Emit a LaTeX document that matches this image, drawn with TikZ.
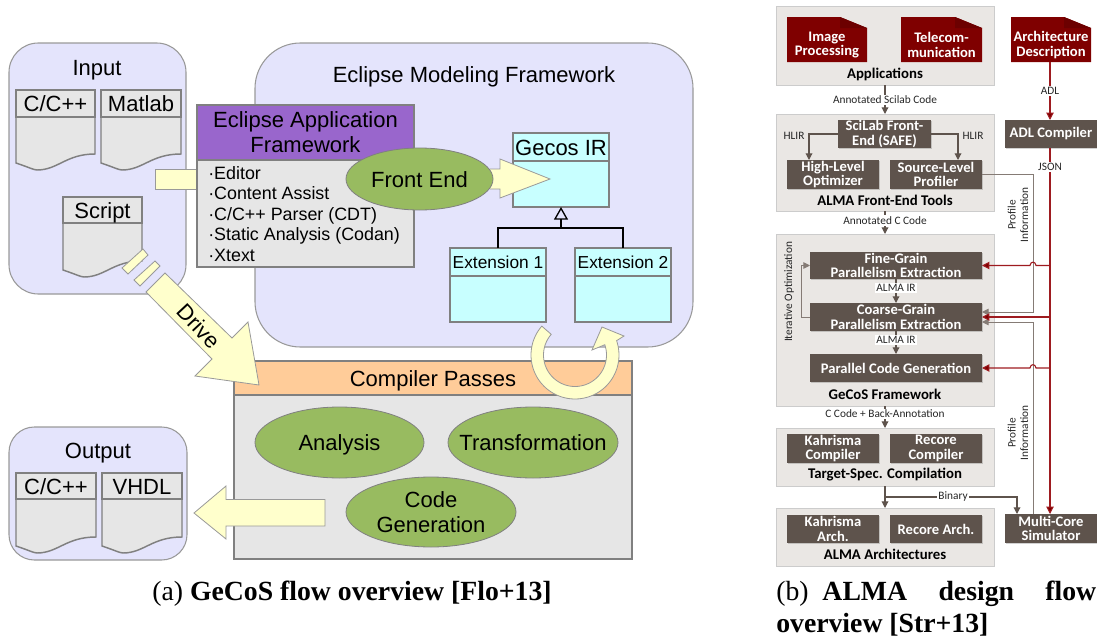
\documentclass[tikz,border=0pt]{standalone}
\usepackage{fontspec}
\setmainfont{Liberation Sans}
\newfontfamily\carl{Carlito}
\newfontfamily\capf{Liberation Serif}
\usetikzlibrary{arrows.meta,shadows,shapes.geometric}
\definecolor{lav}{HTML}{E4E4FC}
\definecolor{edgeg}{HTML}{999999}
\definecolor{docg}{HTML}{808080}
\definecolor{fillg}{HTML}{E6E6E6}
\definecolor{cyanb}{HTML}{C8FFFF}
\definecolor{purp}{HTML}{9966CC}
\definecolor{grn}{HTML}{98BB60}
\definecolor{orng}{HTML}{FFCC99}
\definecolor{pale}{HTML}{FFFFCC}
\definecolor{dred}{HTML}{7F0000}
\definecolor{fold}{HTML}{6C0000}
\definecolor{redl}{HTML}{9E1B20}
\definecolor{brn}{HTML}{5E534C}
\definecolor{prof}{HTML}{857B75}
\definecolor{panel}{HTML}{EAE7E4}
\tikzset{
  big/.style={font=\fontsize{16.5}{18.75}\selectfont},
  capcent/.style={text height=12pt,text depth=0pt},
  lavbox/.style={draw=edgeg,fill=lav,line width=.8pt},
  docbox/.style={draw=docg,fill=fillg,line width=1.1pt,big},
  uml/.style={draw=docg,fill=cyanb,line width=1.1pt},
  oval/.style={ellipse,draw=docg,fill=grn,line width=.6pt,big},
  parr/.style={draw=edgeg,fill=pale,line width=.6pt},
  panelbox/.style={draw=black!20,fill=panel,line width=.5pt,drop shadow={shadow xshift=.4pt,shadow yshift=-.8pt,opacity=.45,fill=black!60}},
  dk/.style={fill=brn,text=white,font=\carl\bfseries\fontsize{10.95}{11}\selectfont,drop shadow={shadow xshift=.5pt,shadow yshift=-.7pt,opacity=.3,fill=black!60}},
  dk2/.style={text=white,font=\carl\bfseries\fontsize{10.95}{11}\selectfont},
  ptitle/.style={font=\carl\bfseries\fontsize{11.1}{12}\selectfont,inner sep=0},
  lbl/.style={font=\carl\fontsize{8.5}{9.5}\selectfont,inner sep=0,text=black!85},
  lblw/.style={lbl,fill=white,inner xsep=1pt,inner ysep=1pt},
  flow/.style={draw=brn,line width=.9pt,-{Triangle[length=5pt,width=5pt]}},
  profl/.style={draw=prof,line width=.7pt,-{Triangle[length=5pt,width=5pt]}},
  redf/.style={draw=redl,line width=.8pt,-{Triangle[length=5.5pt,width=5.5pt,fill=dred]}},
}
\newcommand{\pbox}[7]{%
  \pgfmathsetmacro\bcx{(#2+#4)/2}\pgfmathsetmacro\bcy{(#3+#5)/2}%
  \pgfmathsetmacro\bw{(#4-#2)*0.75}\pgfmathsetmacro\bh{(#5-#3)*0.75}%
  \node[#6,minimum width=\bw pt,minimum height=\bh pt,inner sep=0,align=center,outer sep=0] (#1) at (\bcx,\bcy) {#7};}
% paper document: name, x1,y1,x2,y2, header bottom, text
\newcommand{\paperdoc}[7]{%
  \pgfmathsetmacro\dxa{#2+21}\pgfmathsetmacro\dxb{#2+12}\pgfmathsetmacro\dxc{#2+18}\pgfmathsetmacro\dxd{#2+42}\pgfmathsetmacro\dxe{#2+50}%
  \pgfmathsetmacro\dya{#5-7}\pgfmathsetmacro\dyb{#5-3}\pgfmathsetmacro\dyc{#5-16}%
  \draw[docbox] (#2,#3) -- (#4,#3) -- (#4,\dyc) .. controls (\dxe,\dyc) and (\dxd,#5) .. (\dxa,#5) .. controls (\dxc,#5) and (\dxb,\dyb) .. (#2,\dya) -- cycle;
  \pbox{#1}{#2}{#3}{#4}{#6}{docbox,capcent}{#7}}
% dark red document: name, x1,y1,x2,y2, text
\newcommand{\reddoc}[6]{%
  \pgfmathsetmacro\rxa{#4-27}\pgfmathsetmacro\rya{#3+11}\pgfmathsetmacro\ryb{#3+11}%
  \fill[dred] (#2,#3) -- (\rxa,#3) -- (#4,\rya) -- (#4,#5) -- (#2,#5) -- cycle;
  \fill[fold] (\rxa,#3) -- (#4,\rya) -- (\rxa,\ryb) -- cycle;
  \pbox{#1}{#2}{28}{#4}{#5}{dk2}{#6}}
\begin{document}
\begin{tikzpicture}[x=0.75pt,y=-0.75pt]
\useasboundingbox (0,0) rectangle (1097,639);
% ---------- (a)
\pbox{inputb}{9}{43}{186}{294}{lavbox,rounded corners=22pt}{}
\node[big,inner sep=0] (inputt) at (97,70) {Input};
\pbox{emf}{255}{43}{693}{347}{lavbox,rounded corners=34pt}{}
\node[big,inner sep=0] (emft) at (474,77) {Eclipse Modeling Framework};
\paperdoc{cpp}{16}{90}{95}{170}{117}{C/C++}
\paperdoc{matlab}{101}{90}{181}{170}{117}{Matlab}
\paperdoc{script}{63}{197}{142}{277}{223}{Script}
% stub towards application framework
\fill[pale] (155,169) rectangle (197,189);
\draw[edgeg,line width=.3pt] (155,169) -- (197,169) (155,169) -- (155,189) -- (197,189);
% Drive stubs
\draw[parr] (143,249) -- (148,255) -- (128,274) -- (122,268) -- cycle;
\draw[parr] (155,261) -- (160,266) -- (140,286) -- (134,280) -- cycle;
% framework
\pbox{eaf}{197}{105}{414}{267}{docbox}{}
\pbox{eaft}{197}{105}{414}{160}{draw=docg,fill=purp,line width=1.1pt,big}{Eclipse Application\\Framework}
\node[anchor=north west,inner sep=0,align=left,font=\fontsize{13.4}{15.4}\selectfont] (eafl) at (208,166) {·Editor\\·Content Assist\\·C/C++ Parser (CDT)\\·Static Analysis (Codan)\\·Xtext};
% Gecos IR
\pbox{gecos}{513}{133}{609}{207}{uml}{}
\pbox{gecost}{513}{133}{609}{161}{uml,big,capcent}{Gecos IR}
\pbox{ext1}{450}{248}{546}{322}{uml}{}
\pbox{ext1t}{450}{248}{546}{276}{uml,font=\fontsize{13}{15}\selectfont}{Extension 1}
\pbox{ext2}{575}{248}{671}{322}{uml}{}
\pbox{ext2t}{575}{248}{671}{276}{uml,font=\fontsize{13}{15}\selectfont}{Extension 2}
\coordinate (jn) at (561,228);
\draw[black,line width=1pt] (ext1.north) |- (jn) -| (ext2.north);
\draw[black,line width=1pt,-{Triangle[open,length=9.5pt,width=10.5pt]}] (jn) -- (gecos.south);
% front end
\draw[parr] (490,169) -- (500,169) -- (500,159) -- (550,179) -- (500,198) -- (500,189) -- (490,189);
\pbox{fe}{346}{148}{493}{210}{oval,capcent}{\makebox[0pt]{Front End}}
% compiler passes
\pbox{cpb}{234}{361}{632}{559}{docbox}{}
\pbox{cpt}{234}{361}{632}{395}{draw=docg,fill=orng,line width=1.1pt,big,capcent}{Compiler Passes}
\pbox{an}{255}{407}{424}{478}{oval,capcent}{\makebox[0pt]{Analysis}}
\pbox{tr}{448}{407}{618}{478}{oval,capcent}{\makebox[0pt]{Transformation}}
\pbox{cg}{346}{477}{516}{547}{oval}{Code\\Generation}
% output
\pbox{outb}{9}{427}{187}{560}{lavbox,rounded corners=19pt}{}
\node[big,inner sep=0] (outt) at (98,453) {Output};
\paperdoc{cpp2}{16}{473}{96}{553}{499}{C/C++}
\paperdoc{vhdl}{102}{473}{182}{553}{499}{VHDL}
% big arrows
\draw[parr] (325,499.5) -- (226,499.5) -- (226,486) -- (194,513) -- (226,539) -- (226,526) -- (325,526) -- cycle;
\draw[parr] (165,273) -- (146,292) -- (212,359) -- (195,376) -- (259,385) -- (248,322) -- (232,338) -- cycle;
\node[big,rotate=-47,inner sep=0] (drv) at (199,326) {Drive};
\draw[parr] plot[domain=139:379,samples=70] ({575+44*cos(\x)},{355-44*sin(\x)}) -- (624,336) -- (602,327) -- (592,350) -- plot[domain=379:139,samples=70] ({575+31.5*cos(\x)},{355-31.5*sin(\x)}) -- cycle;
\node[anchor=base,inner sep=0,font=\capf\fontsize{20.8}{24}\selectfont] (capa) at (352,600) {(a) \textbf{GeCoS flow overview [Flo+13]}};
% ---------- (b)
\pbox{apps}{776}{6}{994}{85}{panelbox}{}
\reddoc{img}{787}{17}{867}{62}{Image\\Processing}
\reddoc{tel}{901}{17}{982}{62}{Telecom-\\munication}
\reddoc{arch}{1011}{17}{1091}{62}{Architecture\\Description}
\node[ptitle] (appst) at (885,74) {Applications};
\pbox{alma}{776}{114}{994}{211}{panelbox}{}
\pbox{safe}{838}{120}{931}{148}{dk}{SciLab Front-\\End (SAFE)}
\pbox{hlo}{787}{160}{879}{189}{dk}{High-Level\\Optimizer}
\pbox{slp}{890}{160}{982}{189}{dk}{Source-Level\\Profiler}
\node[ptitle] (almat) at (885,200) {ALMA Front-End Tools};
\pbox{adl}{1005}{120}{1097}{148}{dk}{ADL Compiler}
\pbox{gec}{776}{234}{994}{406}{panelbox}{}
\pbox{fine}{810}{252}{982}{279}{dk}{Fine-Grain\\Parallelism Extraction}
\pbox{coarse}{810}{303}{982}{331}{dk}{Coarse-Grain\\Parallelism Extraction}
\pbox{pcg}{810}{354}{982}{382}{dk}{Parallel Code Generation}
\node[ptitle] (gect) at (885,394) {GeCoS Framework};
\node[lbl,rotate=90] (itopt) at (789,292) {Iterative Optimization};
\pbox{tsc}{776}{428}{994}{486}{panelbox}{}
\pbox{kc}{787}{434}{879}{463}{dk}{Kahrisma\\Compiler}
\pbox{rc}{890}{434}{982}{463}{dk}{Recore\\Compiler}
\node[ptitle] (tsct) at (885,475) {Target-Spec. Compilation};
\pbox{aa}{776}{508}{994}{566}{panelbox}{}
\pbox{ka}{787}{515}{879}{543}{dk}{Kahrisma\\Arch.}
\pbox{ra}{890}{515}{982}{543}{dk}{Recore Arch.}
\node[ptitle] (aat) at (885,554) {ALMA Architectures};
\pbox{sim}{1005}{514}{1097}{543}{dk}{Multi-Core\\Simulator}
% connectors
\draw[flow] (apps.south) -- node[lblw,pos=.52]{Annotated Scilab Code} (alma.north);
\draw[flow] (alma.south) -- node[lblw,pos=.4]{Annotated C Code} (gec.north);
\draw[flow] (gec.south) -- node[lblw,pos=.36]{C Code + Back-Annotation} (tsc.north);
\draw[flow] (tsc.south) -- (aa.north);
\draw[flow] (safe.west) -| (hlo.north -| 809,0);
\draw[flow] (safe.east) -| (958,160);
\node[lbl] (hl1) at (794,136) {HLIR};
\node[lbl] (hl2) at (973,136) {HLIR};
\draw[flow] (fine.south -| 896,0) -- node[lblw,pos=.38]{ALMA IR} (coarse.north -| 896,0);
\draw[flow] (coarse.south -| 896,0) -- node[lblw,pos=.38]{ALMA IR} (pcg.north -| 896,0);
\draw[profl] (coarse.west) -- ++(-9,0) |- (fine.west);
\coordinate (binj) at (885,497);
\coordinate (simin) at (1017,514);
\draw[flow] (binj) -| node[lblw,pos=.258]{Binary} (simin);
% profile lines
\coordinate (ca) at (982,312);
\coordinate (cb) at (982,322);
\coordinate (simo) at (1033,514);
\draw[profl] (slp.east) -- (1033,174.5) -- (1033,312) -- (ca);
\draw[profl] (simo) -- (1033,322) -- (cb);
\node[lbl,rotate=90,align=center] (pi1) at (1018,215) {Profile\\Information};
\node[lbl,rotate=90,align=center] (pi2) at (1018,433) {Profile\\Information};
% red lines
\draw[redf] (arch.south -| 1050,0) -- node[lblw,pos=.5]{ADL} (adl.north -| 1050,0);
\draw[redf] (adl.south -| 1050,0) -- node[lblw,pos=.052]{JSON} (sim.north -| 1050,0);
\coordinate (b1) at (1050,265.5);
\coordinate (b2) at (1050,317);
\coordinate (b3) at (1050,368);
\draw[redf] (b1) -- (1036,265.5) .. controls (1035.5,261) and (1030.5,261) .. (1030,265.5) -- (fine.east);
\draw[redf] (b2) -- (coarse.east);
\draw[redf] (b3) -- (1036,368) .. controls (1035.5,363.5) and (1030.5,363.5) .. (1030,368) -- (pcg.east);
\node[anchor=base west,inner sep=0,font=\capf\fontsize{20.8}{24}\selectfont] (capb) at (776,600) {\makebox[240pt][s]{(b)\ \ \textbf{ALMA}\hfill\textbf{design}\hfill\textbf{flow}}};
\node[anchor=base west,inner sep=0,font=\capf\fontsize{20.8}{24}\selectfont] (capb2) at (776,632) {\textbf{overview [Str+13]}};
\end{tikzpicture}
\end{document}
